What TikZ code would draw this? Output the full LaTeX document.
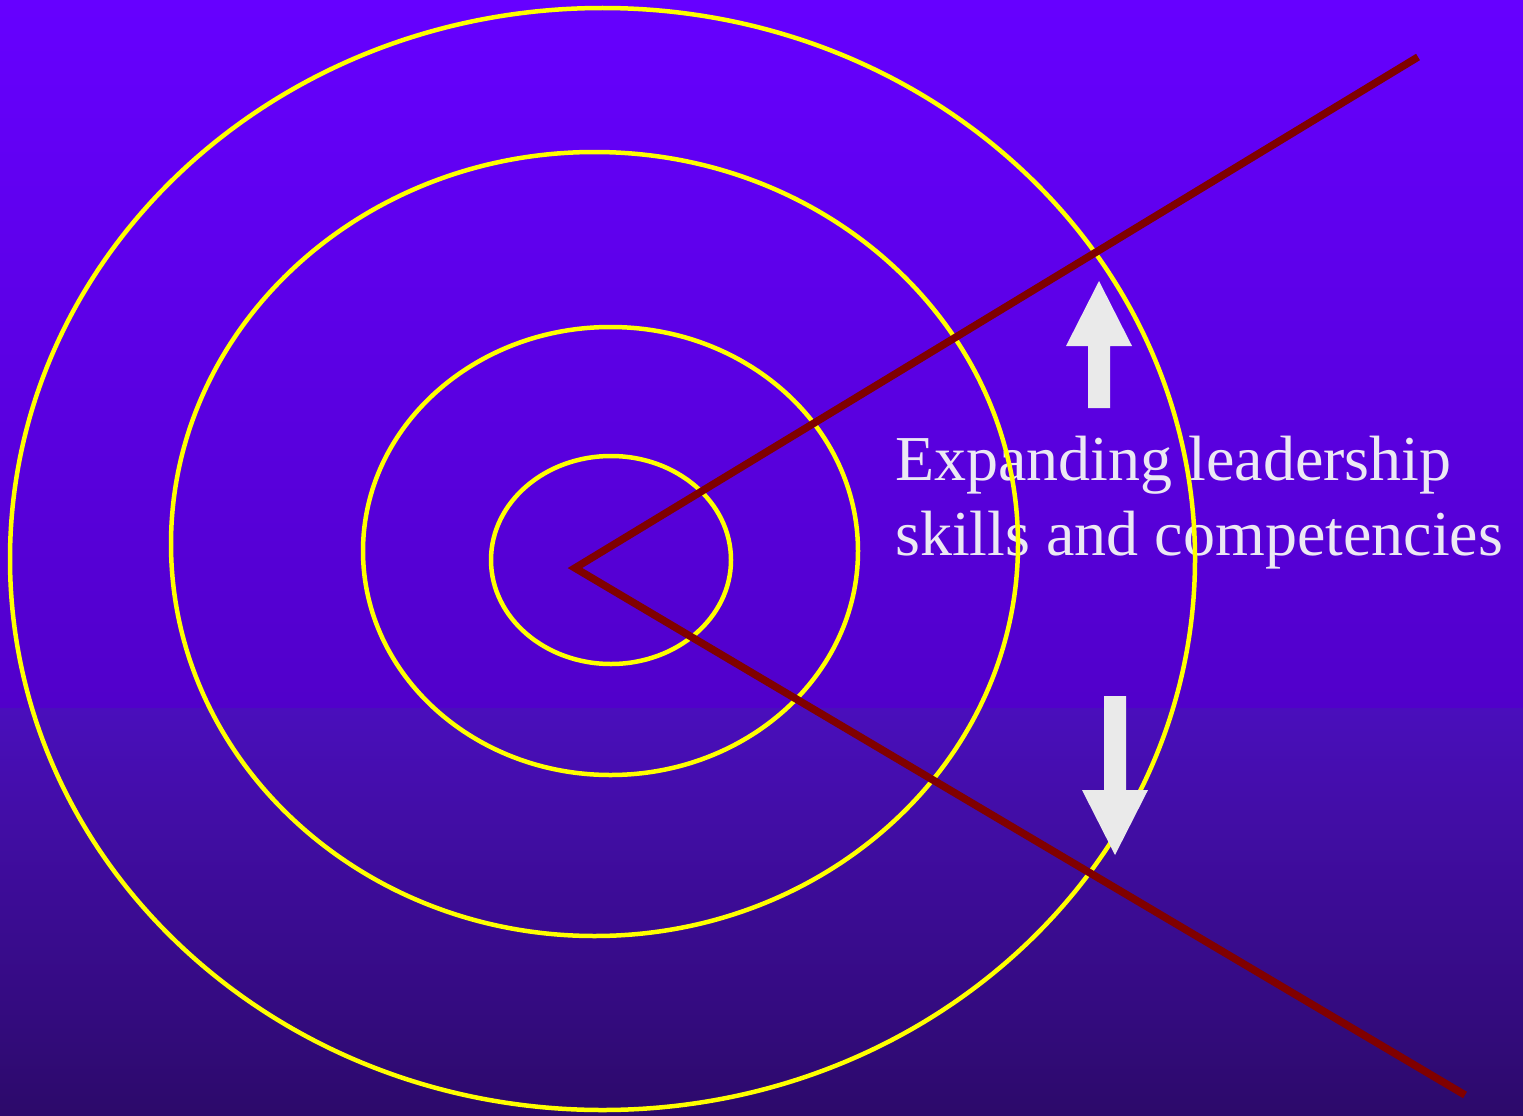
\documentclass[tikz,border=0pt]{standalone}
\usepackage{fontspec}
\setmainfont{Liberation Serif}
\definecolor{bgtop}{HTML}{6600FF}
\definecolor{bgmid}{HTML}{5100CA}
\definecolor{bgmidb}{HTML}{4A0EBC}
\definecolor{bgbot}{HTML}{2C0A6A}
\definecolor{ring}{HTML}{FFFF00}
\definecolor{spoke}{HTML}{800000}
\definecolor{arrowfill}{HTML}{EAEAEA}
\definecolor{txt}{HTML}{ECE8F4}
\begin{document}
\begin{tikzpicture}[x=1pt,y=-1pt,
  ringline/.style={draw=ring,line width=4.5pt},
  spokeline/.style={draw=spoke,line width=7.5pt},
  bigarrow/.style={fill=arrowfill},
  label/.style={text=txt,font=\fontsize{64}{75}\selectfont,align=left,inner sep=0pt}]
\useasboundingbox (0,0) rectangle (1523,1116);
% background
\shade[top color=bgtop,bottom color=bgmid] (0,0) rectangle (1523,708);
\shade[top color=bgmidb,bottom color=bgbot] (0,708) rectangle (1523,1116);
% text
\node[label,anchor=base west] (lbl) at (895,555) {Expanding leadership\\skills and competencies};
% rings
\draw[ringline] (602.5,559) ellipse [x radius=592.5, y radius=551];
\draw[ringline] (594.5,544) ellipse [x radius=423.5, y radius=392];
\draw[ringline] (610.5,551) ellipse [x radius=247.5, y radius=224];
\draw[ringline] (611,560) ellipse [x radius=120, y radius=104];
% spokes
\coordinate (apex) at (575,568);
\coordinate (upper) at (1418,57);
\coordinate (lower) at (1465,1095);
\draw[spokeline] (upper) -- (apex) -- (lower);
% arrows
\fill[bigarrow] (1088,408) -- (1088,346) -- (1066,346) -- (1099,281) -- (1132,346) -- (1110,346) -- (1110,408) -- cycle;
\fill[bigarrow] (1104,696) -- (1104,790) -- (1082,790) -- (1115,855) -- (1148,790) -- (1126,790) -- (1126,696) -- cycle;
\end{tikzpicture}
\end{document}
